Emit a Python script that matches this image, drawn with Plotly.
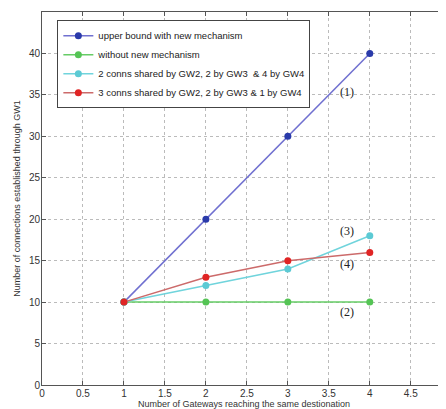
import plotly.graph_objects as go

x_vals = [1, 2, 3, 4]
upper_bound = [10, 20, 30, 40]
without_new = [10, 10, 10, 10]
conns_224 = [10, 12, 14, 18]
conns_321 = [10, 13, 15, 16]

names = [
    "upper bound with new mechanism",
    "without new mechanism",
    "2 conns shared by GW2, 2 by GW3  & 4 by GW4",
    "3 conns shared by GW2, 2 by GW3 & 1 by GW4",
]
line_colors = ["#7070d0", "#66cc66", "#70d4dc", "#cc6a6a"]
marker_colors = ["#2a3aaa", "#55c455", "#5ccad4", "#e02424"]
series = [upper_bound, without_new, conns_224, conns_321]

labels = ["(1)", "(2)", "(3)", "(4)"]
label_x = [3.72, 3.72, 3.72, 3.72]
label_y = [35.4, 8.8, 18.6, 14.6]

fig = go.Figure()
for name, ys, lc, mc in zip(names, series, line_colors, marker_colors):
    fig.add_trace(go.Scatter(
        x=x_vals, y=ys, mode="lines+markers", name=name,
        line=dict(color=lc, width=1.5),
        marker=dict(color=mc, size=7),
    ))

for t, xx, yy in zip(labels, label_x, label_y):
    fig.add_annotation(x=xx, y=yy, text=t, showarrow=False,
                       font=dict(family="Liberation Serif", size=12, color="#222"))

axis_common = dict(
    showline=True, linecolor="#555", linewidth=1, mirror="ticks",
    ticks="inside", ticklen=4, tickcolor="#555",
    showgrid=True, gridcolor="#bbbbbb", griddash="dot", gridwidth=1,
    zeroline=False, tickfont=dict(family="Liberation Sans", size=10, color="#333"),
)

fig.update_layout(
    width=438, height=401,
    margin=dict(l=34, r=0, t=4, b=24, autoexpand=False),
    paper_bgcolor="white", plot_bgcolor="white",
    xaxis=dict(range=[0, 4.93], dtick=0.5, tick0=0,
               title=dict(text="Number of Gateways reaching the same destionation",
                          font=dict(family="Liberation Sans", size=9, color="#333")),
               automargin=False, ticklabelstandoff=-1,
               **axis_common),
    yaxis=dict(range=[0, 45], dtick=5, tick0=0,
               title=dict(text="Number of connections established through GW1",
                          font=dict(family="Liberation Sans", size=9, color="#333"), standoff=6),
               automargin=False, ticklabelstandoff=-1,
               **axis_common),
    legend=dict(x=0.038, y=0.978, xanchor="left", yanchor="top",
                bordercolor="#444", borderwidth=1, bgcolor="white",
                font=dict(family="Liberation Sans", size=9.5, color="#222"),
                tracegroupgap=0, itemwidth=30),
    showlegend=True,
)

fig.write_html("out.html")
